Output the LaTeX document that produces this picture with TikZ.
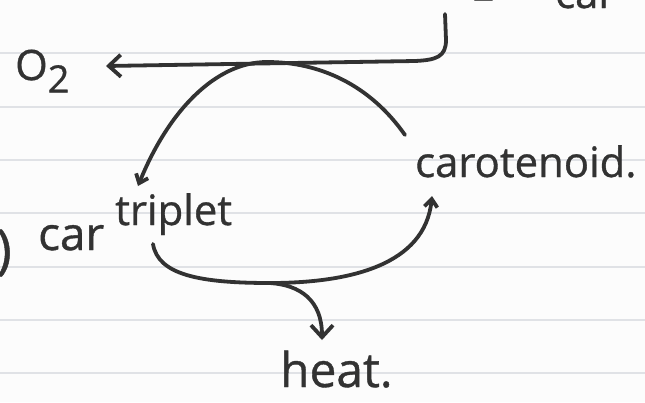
\documentclass[tikz,border=0pt]{standalone}
\usepackage{fontspec}
\setmainfont{Open Sans}
\newfontfamily\handfont[FakeBold=0.8]{Open Sans}
\usetikzlibrary{arrows.meta}
\definecolor{ink}{RGB}{50,50,50}
\definecolor{rulecol}{RGB}{224,226,230}
\definecolor{paper}{RGB}{252,252,252}
\tikzset{
 inkline/.style={draw=ink, line width=3.8bp, line cap=round, line join=round},
 bigbarb/.style={-{Straight Barb[length=12bp,width=22bp]}},
 smallbarb/.style={-{Straight Barb[length=8bp,width=13bp]}},
 handtext/.style={text=ink, inner sep=0pt, font=\handfont\fontsize{42}{42}\selectfont},
}
\begin{document}
\begin{tikzpicture}[x=1bp,y=-1bp]
\useasboundingbox (0,0) rectangle (645,402);
\clip (0,0) rectangle (645,402);
\fill[paper] (0,0) rectangle (645,402);
\foreach \y in {53,107,160,213,267,320,373}
  \draw[rulecol, line width=1.2bp] (0,\y) -- (645,\y);

% text
\node[handtext, anchor=base west] (o2) at (15,80) {O\raisebox{-0.3em}{\fontsize{38}{38}\selectfont 2}};
\node[handtext, anchor=base west] (topo2) at (440,-12) {O\raisebox{-0.3em}{\fontsize{38}{38}\selectfont 2}};
\node[handtext, anchor=base west] (topcar) at (555,8) {car};
\node[handtext, anchor=base west] (carot) at (415,177) {carotenoid.};
\node[handtext, anchor=base west, font=\handfont\fontsize{46}{46}\selectfont] (car) at (38,250) {car};
\node[handtext, anchor=base west] (trip) at (115,225) {triplet};
\node[handtext, anchor=base west, font=\handfont\fontsize{48}{48}\selectfont] (heat) at (280,387) {heat.};
\node[handtext, anchor=base east, font=\handfont\fontsize{54}{54}\selectfont] (paren) at (12,268) {)};

% connector coordinates
\coordinate (topstart) at (445,14);
\coordinate (o2tip) at (106,66);
\coordinate (arcstart) at (405,135);
\coordinate (arctop) at (267,62);
\coordinate (arcend) at (138,186);
\coordinate (lowstart) at (153,244);
\coordinate (lowmid) at (270,283);
\coordinate (lowend) at (432,196);
\coordinate (heattip) at (322,340);

% top arrow to O2
\draw[inkline, bigbarb] (topstart) -- (446,40) .. controls (446,57) and (436,60) .. (415,61) -- (o2tip);

% arc from carotenoid to triplet
\draw[inkline, smallbarb] (arcstart) .. controls (370,85) and (320,62) .. (arctop)
  .. controls (215,62) and (168,112) .. (arcend);

% lower curve from triplet to carotenoid
\draw[inkline, smallbarb] (lowstart) .. controls (158,275) and (200,283) .. (lowmid)
  .. controls (350,283) and (425,265) .. (lowend);

% branch to heat
\draw[inkline, bigbarb] (lowmid) .. controls (300,285) and (322,300) .. (heattip);
\end{tikzpicture}
\end{document}
